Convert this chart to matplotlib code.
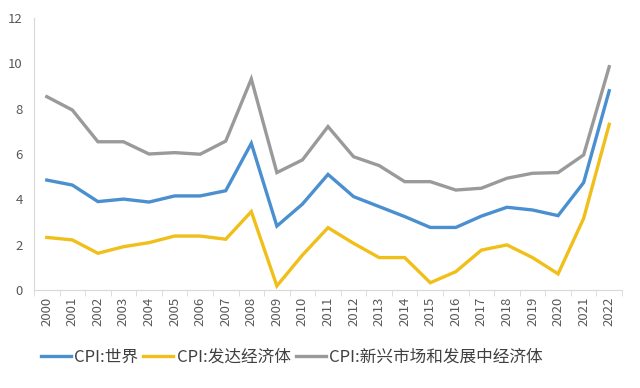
import numpy as np
import matplotlib.pyplot as plt

plt.rcParams['font.family'] = ['Noto Sans CJK SC', 'DejaVu Sans']

years = [str(y) for y in range(2000, 2023)]
cpi_world = [4.85, 4.63, 3.90, 4.01, 3.88, 4.15, 4.15, 4.38, 6.47, 2.82, 3.79, 5.10,
             4.12, 3.68, 3.24, 2.76, 2.76, 3.26, 3.65, 3.53, 3.28, 4.74, 8.79]
cpi_advanced = [2.32, 2.21, 1.62, 1.91, 2.09, 2.38, 2.38, 2.24, 3.46, 0.18, 1.54, 2.75,
                2.06, 1.43, 1.43, 0.32, 0.81, 1.76, 1.99, 1.43, 0.71, 3.16, 7.31]
cpi_emerging = [8.53, 7.94, 6.54, 6.54, 6.00, 6.06, 5.99, 6.57, 9.31, 5.18, 5.74, 7.21,
                5.88, 5.49, 4.78, 4.78, 4.41, 4.49, 4.93, 5.15, 5.18, 5.96, 9.85]
labels = ["CPI:世界", "CPI:发达经济体", "CPI:新兴市场和发展中经济体"]
colors = ["#4a8fcf", "#f0bf1a", "#9a9a9a"]

fig = plt.figure(figsize=(6.4, 3.88), dpi=100)
ax = fig.add_axes([34 / 640, 1 - 290 / 388, 588 / 640, 272 / 388])

x = np.arange(len(years))
for vals, lab, c in zip([cpi_world, cpi_advanced, cpi_emerging], labels, colors):
    ax.plot(x, vals, color=c, lw=2.4, label=lab, solid_joinstyle='miter')

ax.set_xlim(-0.5, len(years) - 0.5)
ax.set_ylim(0, 12)
ax.set_yticks(range(0, 13, 2))
ax.set_xticks(x)
ax.set_xticklabels(years, rotation=90)
ax.set_xticks(np.arange(-0.5, len(years), 1), minor=True)
ax.tick_params(axis='x', which='major', length=0, pad=5, labelsize=9.5, colors='#595959')
ax.tick_params(axis='x', which='minor', length=4, color='#d9d9d9')
ax.tick_params(axis='y', length=0, pad=8, labelsize=9.5, colors='#595959')

for s in ['top', 'right']:
    ax.spines[s].set_visible(False)
ax.spines['left'].set_color('#d9d9d9')
ax.spines['bottom'].set_color('#d9d9d9')

fig.legend(loc='center left', bbox_to_anchor=(26 / 640, 1 - 357 / 388), ncol=3,
           frameon=False, fontsize=12, handlelength=1.8, handletextpad=0.2,
           columnspacing=0.3, labelcolor='#404040')

fig.savefig("out.png")
